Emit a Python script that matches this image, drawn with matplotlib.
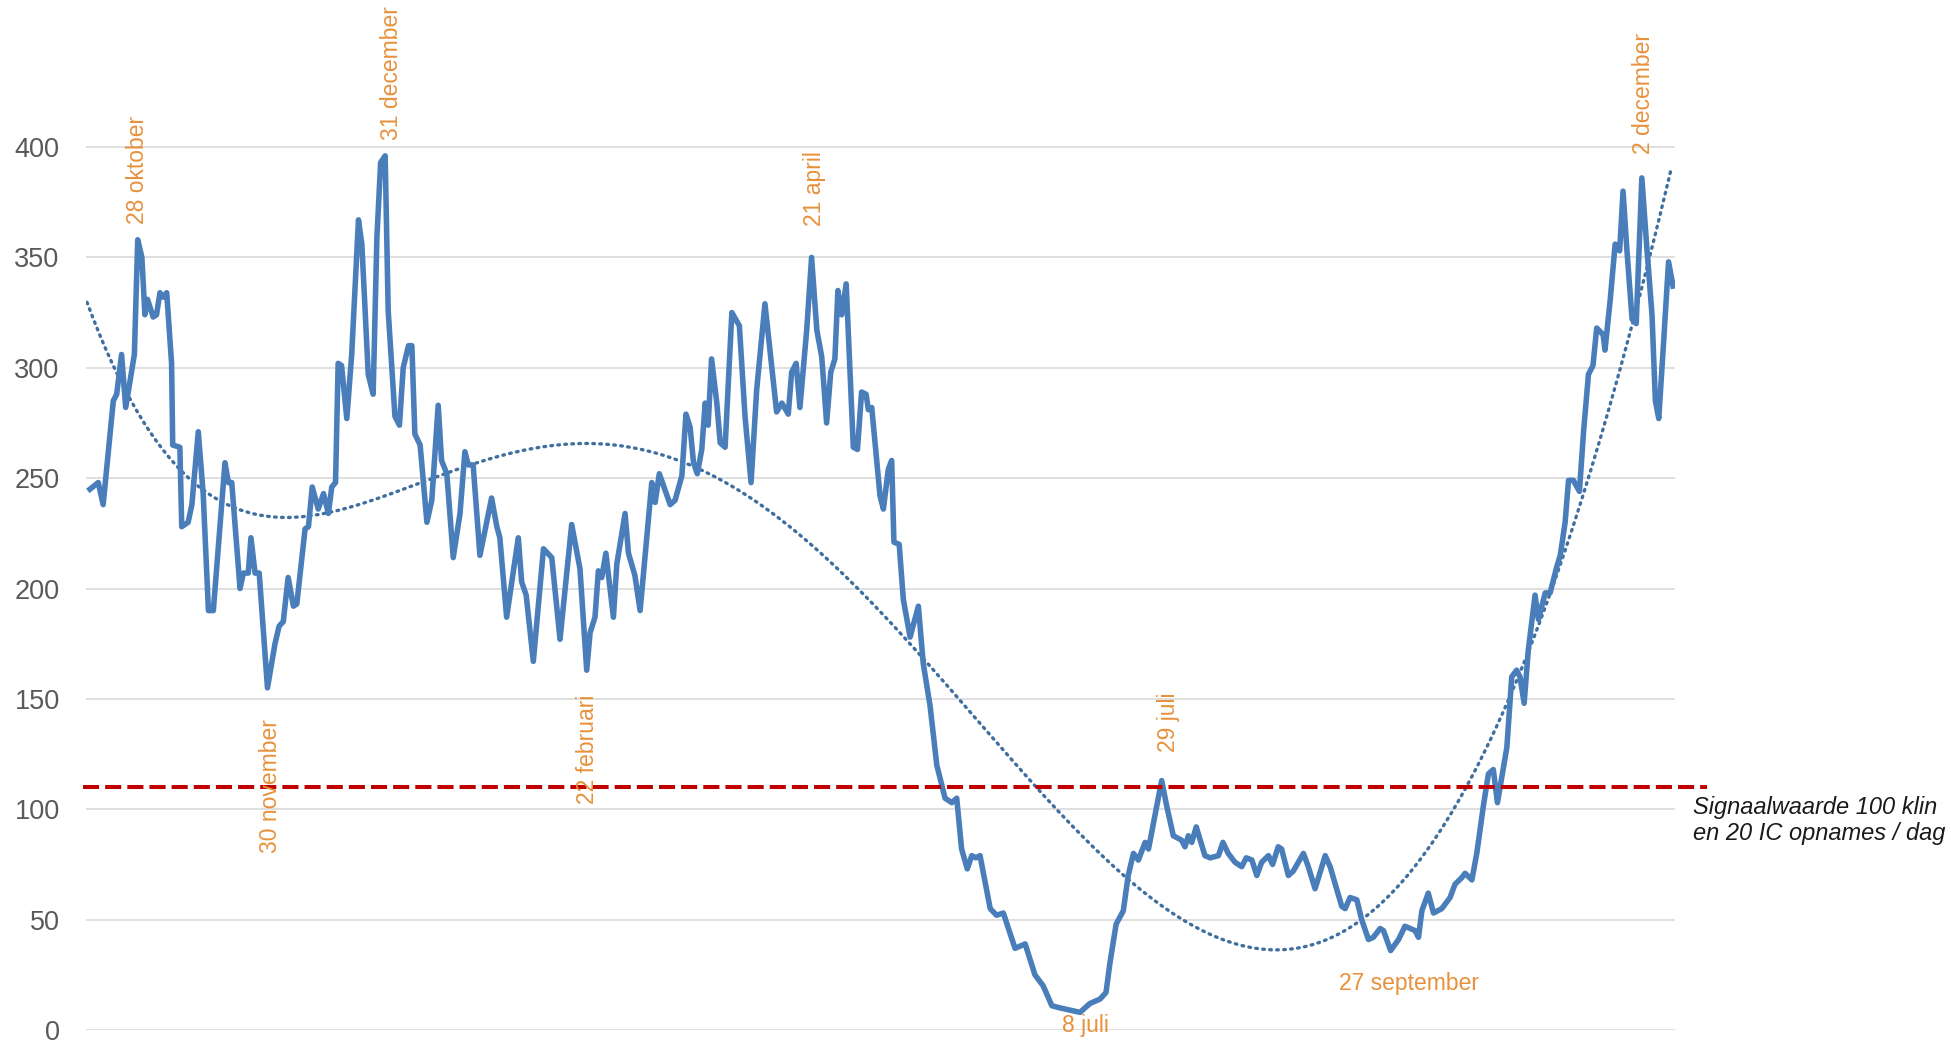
import numpy as np
import matplotlib
matplotlib.use('Agg')
import matplotlib.pyplot as plt
import matplotlib.dates as mdates

plt.rcParams['font.family'] = ['Liberation Sans', 'DejaVu Sans']

start = np.datetime64('2020-10-14')
dag = [1.3, 3.5, 4.8, 7.5, 8.4, 9.7, 10.8, 13.1, 14.0, 15.1, 15.9, 16.6, 18.1, 19.0, 19.9,
       20.8, 21.7, 23.0, 23.3, 25.2, 25.7, 27.4, 28.4, 30.1, 31.4, 32.8, 34.1, 37.2, 38.1,
       39.0, 41.2, 42.1, 43.4, 44.1, 45.2, 46.3, 48.5, 50.5, 51.6, 52.7, 54.0, 55.4, 56.3,
       58.5, 59.4, 60.4, 62.0, 63.4, 64.7, 65.6, 66.6, 67.3, 68.2, 69.6, 70.9, 72.7, 73.6,
       75.3, 76.6, 77.6, 78.6, 79.8, 80.6, 82.4, 83.6, 84.6, 86.0, 86.9, 87.7, 89.1, 90.9,
       92.2, 93.9, 94.8, 96.2, 97.9, 99.7, 101.0, 101.9, 103.2, 105.0, 108.1, 109.5, 110.3,
       112.1, 115.2, 116.1, 117.3, 119.2, 121.9, 124.1, 126.3, 129.4, 131.6, 133.4, 134.3,
       135.6, 136.5, 137.4, 138.5, 140.5, 141.4, 143.6, 144.5, 146.2, 147.6, 150.7, 151.6,
       152.7, 155.6, 156.9, 158.7, 159.8, 160.9, 161.8, 162.8, 164.0, 164.9, 165.7, 166.6,
       168.0, 168.9, 170.2, 172.0, 174.0, 175.5, 177.1, 178.6, 180.8, 183.9, 185.3, 187.0,
       187.9, 189.1, 190.1, 191.9, 193.2, 194.6, 195.9, 197.2, 198.3, 199.4, 200.2, 201.2,
       202.4, 203.4, 204.3, 205.4, 206.5, 207.7, 208.3, 209.2, 211.4, 212.3, 213.6, 214.5,
       215.1, 216.5, 217.6, 219.4, 221.6, 222.9, 224.7, 226.5, 228.7, 230.5, 231.8, 233.1,
       234.6, 235.8, 236.9, 238.0, 240.7, 242.4, 244.2, 247.3, 250.0, 252.6, 254.8, 257.1,
       259.3, 261.9, 264.6, 267.2, 269.9, 271.5, 272.6, 274.2, 276.1, 277.4, 278.8, 280.1,
       281.9, 282.8, 286.3, 287.7, 289.4, 291.6, 292.5, 293.4, 294.3, 295.5, 297.8, 299.2,
       301.4, 302.6, 304.0, 305.8, 307.6, 308.8, 310.3, 311.6, 312.9, 314.7, 315.8, 317.3,
       318.2, 320.0, 321.3, 324.0, 325.3, 327.1, 329.8, 331.1, 334.2, 335.1, 336.4, 338.2,
       339.5, 341.3, 342.6, 344.4, 345.3, 347.2, 349.3, 351.0, 352.4, 353.7, 354.6, 355.5,
       357.2, 358.6, 360.8, 363.0, 364.3, 366.1, 367.0, 368.8, 370.1, 371.9, 373.2, 374.5,
       375.6, 377.2, 378.1, 379.4, 380.7, 381.6, 382.7, 383.8, 385.6, 386.5, 388.3, 389.6,
       391.4, 392.3, 393.6, 394.5, 395.8, 397.4, 398.5, 399.8, 401.0, 402.0, 403.7, 404.2,
       405.6, 406.9, 408.1, 409.0, 410.0, 411.4, 412.5, 414.0, 415.3, 416.7, 417.6, 418.5,
       419.8, 421.1, 422.3]
opnames = [245, 248, 238, 285, 288, 306, 282, 306, 358, 350, 324, 331, 323, 324, 334,
           332, 334, 302, 265, 264, 228, 230, 238, 271, 243, 190, 190, 257, 248,
           248, 200, 207, 207, 223, 207, 207, 155, 175, 183, 185, 205, 192, 193,
           227, 228, 246, 236, 243, 234, 246, 248, 302, 301, 277, 306, 367, 356,
           297, 288, 359, 393, 396, 326, 278, 274, 300, 310, 310, 270, 265, 230,
           240, 283, 258, 252, 214, 234, 262, 256, 256, 215, 241, 228, 223,
           187, 223, 203, 197, 167, 218, 214, 177, 229, 209, 163, 180,
           187, 208, 205, 216, 187, 211, 234, 216, 206, 190, 248, 239,
           252, 238, 240, 251, 279, 273, 257, 252, 263, 284, 274, 304,
           284, 266, 264, 325, 319, 278, 248, 290, 329, 280, 284, 279,
           298, 302, 282, 317, 350, 317, 305, 275, 298, 304, 335, 324,
           338, 299, 264, 263, 289, 288, 281, 282, 242, 236, 254, 258,
           221, 220, 195, 178, 192, 166, 147, 120, 105, 103, 105, 82,
           73, 79, 78, 79, 55, 52, 53, 37, 39, 25, 20, 11,
           10, 9, 8, 12, 14, 17, 31, 48, 54, 70, 80, 77,
           85, 82, 113, 101, 88, 86, 83, 88, 85, 92, 79, 78,
           79, 85, 80, 76, 74, 78, 77, 70, 76, 79, 75, 83,
           82, 70, 72, 80, 74, 64, 79, 74, 56, 55, 60, 59,
           50, 41, 42, 46, 45, 36, 41, 47, 46, 45, 42, 54,
           62, 53, 55, 60, 66, 69, 71, 68, 80, 102, 116, 118,
           103, 119, 128, 160, 163, 160, 148, 172, 197, 186, 198, 198,
           210, 215, 230, 249, 249, 244, 271, 297, 301, 318, 315, 308,
           331, 356, 353, 380, 354, 322, 320, 386, 355, 324, 285, 277,
           312, 348, 337]

trend_dag = [0.5, 10.5, 20.4, 30.3, 43.6, 56.8, 70.0, 83.3, 96.5, 109.7, 123.0, 132.9,
             142.8, 156.1, 169.3, 182.6, 195.8, 209.0, 222.3, 235.5, 248.7, 262.0, 275.2,
             288.4, 301.7, 314.9, 328.2, 341.4, 354.6, 363.5, 367.9, 381.1, 394.3, 407.6,
             421.8]
trend_waarde = [326, 297, 263, 244, 234, 232, 236, 245, 254, 260, 264, 265,
                263, 258, 248, 235, 218, 197, 171, 144, 117, 91, 69,
                52, 42, 37, 40, 52, 80, 102, 113, 156, 220, 292,
                393]

signaalwaarde = 110

# labels bij pieken en dalen: tekst, dag, hoogte, draaiing, uitlijning
label_tekst = ['28 oktober', '30 november', '31 december', '22 februari', '21 april',
               '8 juli', '29 juli', '27 september', '2 december']
label_dag = [14.0, 49.2, 81.6, 133.5, 194.1, 265.9, 288.0, 352.0, 414.5]
label_y = [365, 141, 403, 152, 364, 2, 126, 21, 397]
label_rot = [90, 90, 90, 90, 90, 0, 90, 0, 90]
label_va = ['bottom', 'top', 'bottom', 'top', 'bottom', 'center', 'bottom', 'center', 'bottom']

t0 = mdates.date2num(start)
x = t0 + np.array(dag)
y = np.array(opnames)

td = np.array(trend_dag)
coef = np.polyfit(td, trend_waarde, 6)
tr_d = np.linspace(td[0], td[-1], 500)
tr_y = np.polyval(coef, tr_d)

fig = plt.figure(figsize=(19.51, 10.42), dpi=100)
ax = fig.add_axes([0.0441, 0.0115, 0.8144, 0.9885])

ax.plot(t0 + tr_d, tr_y, color='#3f6f9f', lw=2.4,
        linestyle=(0, (0.5, 1.6)), dash_capstyle='round', zorder=3)
ax.plot(x, y, color='#4a7ebb', lw=4.0, solid_joinstyle='round', zorder=4)
ax.axhline(signaalwaarde, xmin=-0.002, xmax=1.0201, color='#c00000', lw=2.9,
           linestyle=(0, (4.0, 1.5)), clip_on=False, zorder=5)

for txt, d, yy, rot, va in zip(label_tekst, label_dag, label_y, label_rot, label_va):
    ax.text(t0 + d, yy, txt, rotation=rot, ha='center', va=va, fontsize=16.5,
            color='#e8913c', clip_on=False, zorder=6)

ax.text(t0 + 427.6, 106, 'Signaalwaarde 100 klin\nen 20 IC opnames / dag', ha='left', va='top',
        fontsize=17, style='italic', color='#1a1a1a', linespacing=1.15, clip_on=False)

ax.set_xlim(t0 + 0.25, t0 + 422.8)
ax.set_ylim(0, 466.6)
ax.set_yticks(np.arange(0, 401, 50))
ax.set_xticks([])
ax.grid(axis='y', color='#d9d9d9', lw=1.2)
ax.set_axisbelow(True)
for s in ax.spines.values():
    s.set_visible(False)
ax.tick_params(axis='y', length=0, pad=19, labelsize=19.5, labelcolor='#595959')

fig.savefig('out.png', dpi=100)
